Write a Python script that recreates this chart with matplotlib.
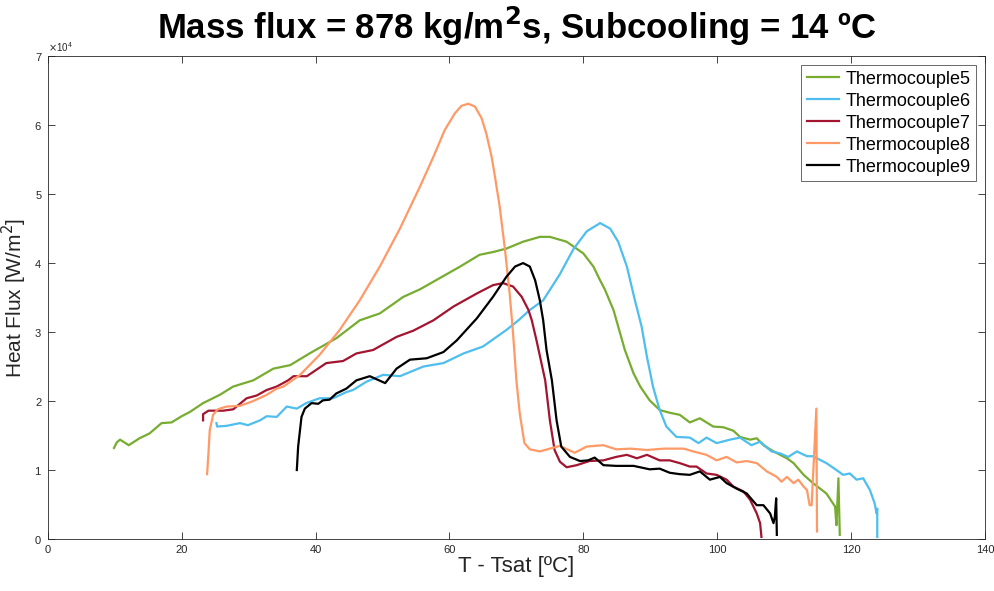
import matplotlib

matplotlib.use("Agg")
import matplotlib.pyplot as plt
import numpy as np
from matplotlib.ticker import ScalarFormatter

plt.rcParams["font.family"] = ["Liberation Sans", "DejaVu Sans"]

# heat flux values below are in units of 1e4 W/m^2
tc5_dt = [9.9, 10.3, 10.8, 12.1, 13.7, 15.2, 17.0, 18.5, 20.0, 21.2, 23.2, 25.7, 27.7,
          30.7, 33.7, 36.2, 39.1, 43.1, 46.6, 49.6, 53.1, 55.6, 61.6, 64.5, 66.5, 68.5,
          71.0, 73.5, 75.0, 77.5, 80.0, 81.5, 82.5, 83.2, 84.5, 85.5, 86.2, 87.5, 88.5,
          89.9, 91.4, 92.9, 94.4, 95.9, 97.4, 99.4, 100.9, 102.4, 103.4, 104.9, 105.9,
          106.9, 108.4, 110.4, 111.4, 112.9, 114.3, 116.3, 117.6, 117.8, 118.1, 118.3]
tc5_q = [1.32, 1.40, 1.44, 1.36, 1.46, 1.53, 1.68, 1.69, 1.78, 1.84, 1.97, 2.09, 2.21,
         2.30, 2.47, 2.52, 2.69, 2.91, 3.17, 3.27, 3.51, 3.62, 3.95, 4.12, 4.16, 4.21,
         4.31, 4.38, 4.38, 4.31, 4.14, 3.95, 3.75, 3.62, 3.32, 2.98, 2.74, 2.40, 2.21,
         2.01, 1.87, 1.83, 1.80, 1.69, 1.75, 1.63, 1.62, 1.57, 1.48, 1.44, 1.46,
         1.36, 1.27, 1.17, 1.10, 0.93, 0.81, 0.66, 0.47, 0.20, 0.88, 0.06]

tc6_dt = [25.2, 25.3, 26.7, 28.7, 29.9, 31.7, 32.7, 34.2, 35.7, 37.2, 38.6, 40.6, 42.6,
          44.6, 45.6, 47.6, 50.1, 52.6, 56.1, 59.1, 62.1, 65.0, 68.5, 70.3, 72.0, 74.0,
          76.5, 78.5, 80.5, 82.5, 84.0, 85.2, 86.5, 87.7, 88.7, 89.5, 90.4, 91.4, 92.4,
          93.9, 95.9, 97.2, 98.4, 99.9, 101.9, 103.4, 105.1, 106.4, 108.1, 109.4, 110.6,
          111.9, 113.4, 114.3, 116.3, 117.8, 118.8, 119.8, 120.8, 121.8, 122.8, 123.5,
          123.8, 123.9, 123.9]
tc6_q = [1.68, 1.63, 1.64, 1.68, 1.65, 1.72, 1.78, 1.77, 1.92, 1.89, 1.97, 2.04, 2.04,
         2.13, 2.16, 2.28, 2.38, 2.36, 2.50, 2.55, 2.69, 2.79, 3.03, 3.17, 3.32, 3.46,
         3.84, 4.20, 4.46, 4.58, 4.50, 4.31, 3.95, 3.46, 3.08, 2.64, 2.21, 1.87, 1.63,
         1.48, 1.47, 1.39, 1.47, 1.39, 1.44, 1.47, 1.36, 1.41, 1.27, 1.24, 1.19,
         1.27, 1.20, 1.20, 1.10, 1.00, 0.93, 0.95, 0.86, 0.88, 0.71, 0.52,
         0.37, 0.44, 0.03]

tc7_dt = [23.2, 23.2, 24.0, 26.2, 27.7, 29.7, 31.2, 32.7, 34.2, 35.9, 36.7, 38.7, 41.6,
          44.1, 46.1, 48.6, 52.1, 54.6, 57.6, 60.6, 64.1, 66.5, 68.0, 69.5, 70.8, 71.8,
          72.3, 73.0, 74.3, 75.0, 75.7, 76.5, 77.5, 79.0, 80.9, 83.0, 84.9, 86.5, 88.0,
          89.5, 91.4, 92.9, 94.4, 95.9, 96.9, 98.4, 99.9, 101.4, 102.4, 103.9, 104.9,
          105.9, 106.4, 106.6]
tc7_q = [1.72, 1.81, 1.86, 1.86, 1.88, 2.04, 2.08, 2.16, 2.21, 2.30, 2.36, 2.36, 2.55,
         2.58, 2.69, 2.74, 2.93, 3.02, 3.17, 3.37, 3.56, 3.68, 3.71, 3.66, 3.51, 3.32,
         3.17, 2.88, 2.30, 1.72, 1.29, 1.12, 1.04, 1.07, 1.13, 1.14, 1.19, 1.22, 1.17,
         1.22, 1.14, 1.14, 1.10, 1.05, 1.05, 0.95, 0.93, 0.86, 0.76, 0.69, 0.57,
         0.37, 0.23, 0.03]

tc8_dt = [23.8, 24.0, 24.2, 24.7, 25.4, 26.7, 28.7, 30.7, 32.7, 34.2, 35.2, 37.7, 40.6,
          43.6, 46.6, 49.6, 52.6, 55.6, 57.6, 59.3, 60.8, 61.8, 62.8, 63.8, 64.8, 65.5,
          66.3, 66.8, 67.5, 68.3, 69.0, 69.5, 70.0, 70.5, 71.2, 72.0, 73.5, 75.0, 76.5,
          78.7, 80.5, 83.0, 84.9, 87.0, 89.5, 92.0, 95.0, 96.4, 98.4, 99.9, 101.4, 102.9,
          104.4, 105.9, 107.4, 108.9, 109.6, 110.4, 111.4, 112.1, 112.9, 113.4, 113.8,
          114.1, 114.8, 114.9]
tc8_q = [0.94, 1.24, 1.58, 1.80, 1.88, 1.92, 1.93, 2.00, 2.09, 2.18, 2.21, 2.38, 2.67,
         3.03, 3.46, 3.95, 4.50, 5.11, 5.54, 5.93, 6.17, 6.28, 6.31, 6.27, 6.10, 5.88,
         5.54, 5.25, 4.82, 4.19, 3.55, 2.98, 2.30, 1.82, 1.39, 1.30, 1.27, 1.31, 1.35,
         1.25, 1.34, 1.36, 1.30, 1.31, 1.29, 1.31, 1.31, 1.27, 1.22, 1.14, 1.19, 1.11,
         1.13, 1.10, 0.98, 0.90, 0.83, 0.90, 0.81, 0.86, 0.76, 0.71, 0.49,
         0.49, 1.89, 0.11]

tc9_dt = [37.2, 37.4, 37.9, 38.4, 39.4, 40.4, 41.1, 42.1, 43.1, 44.6, 46.1, 48.1, 50.4,
          52.1, 54.1, 56.6, 59.1, 61.1, 64.1, 66.5, 68.5, 69.8, 71.0, 72.0, 72.8, 73.5,
          74.0, 74.5, 75.3, 76.0, 76.7, 78.0, 79.5, 80.7, 81.7, 83.0, 84.9, 87.5, 89.9,
          91.4, 92.9, 94.4, 95.9, 97.4, 98.9, 100.4, 101.4, 102.9, 104.4, 105.9, 106.9,
          107.9, 108.4, 108.6, 108.8, 108.9]
tc9_q = [1.00, 1.34, 1.77, 1.89, 1.97, 1.96, 2.01, 2.02, 2.11, 2.18, 2.30, 2.36, 2.26,
         2.47, 2.60, 2.62, 2.71, 2.88, 3.20, 3.51, 3.80, 3.95, 4.00, 3.95, 3.75, 3.46,
         3.17, 2.74, 2.30, 1.72, 1.34, 1.19, 1.13, 1.14, 1.18, 1.07, 1.06, 1.06, 1.01,
         1.02, 0.96, 0.94, 0.93, 0.98, 0.86, 0.90, 0.81, 0.73, 0.66, 0.49, 0.49,
         0.37, 0.23, 0.32, 0.59, 0.06]

series = [
    ("Thermocouple5", tc5_dt, tc5_q, "#77AC30"),
    ("Thermocouple6", tc6_dt, tc6_q, "#4DBEEE"),
    ("Thermocouple7", tc7_dt, tc7_q, "#A2142F"),
    ("Thermocouple8", tc8_dt, tc8_q, "#FF9966"),
    ("Thermocouple9", tc9_dt, tc9_q, "#000000"),
]

fig = plt.figure(figsize=(9.95, 5.91), dpi=100)
ax = fig.add_axes([0.048, 0.088, 0.942, 0.817])

for name, dt, q, color in series:
    ax.plot(dt, np.array(q) * 1e4, color=color, lw=1.6, label=name,
            solid_joinstyle="round")

ax.set_xlim(0, 140)
ax.set_ylim(0, 7e4)
ax.set_xticks(np.arange(0, 141, 20))
ax.set_yticks(np.arange(0, 7.01e4, 1e4))

fmt = ScalarFormatter(useMathText=True)
fmt.set_powerlimits((0, 0))
ax.yaxis.set_major_formatter(fmt)
ax.yaxis.get_offset_text().set_fontsize(7)
ax.yaxis.get_offset_text().set_color("#262626")

ax.tick_params(direction="in", length=5, width=0.6, labelsize=8,
               colors="#262626", top=True, right=True, pad=4)
for s in ax.spines.values():
    s.set_color("#262626")
    s.set_linewidth(0.6)

ax.set_xlabel("T - Tsat [ºC]", fontsize=16, color="#262626", labelpad=1)
ax.set_ylabel("Heat Flux [W/m$^2$]", fontsize=15, color="#262626", labelpad=4)
ax.set_title("Mass flux = 878 kg/m$^\\mathbf{2}$s, Subcooling = 14 ºC",
             fontsize=25, fontweight="bold", pad=12)

leg = ax.legend(loc="upper right", fontsize=13, frameon=True, fancybox=False,
                edgecolor="#262626", handlelength=1.8, borderpad=0.3,
                labelspacing=0.28, handletextpad=0.35, borderaxespad=0.5)
leg.get_frame().set_linewidth(0.6)

fig.savefig("out.png", dpi=100, facecolor="white")
